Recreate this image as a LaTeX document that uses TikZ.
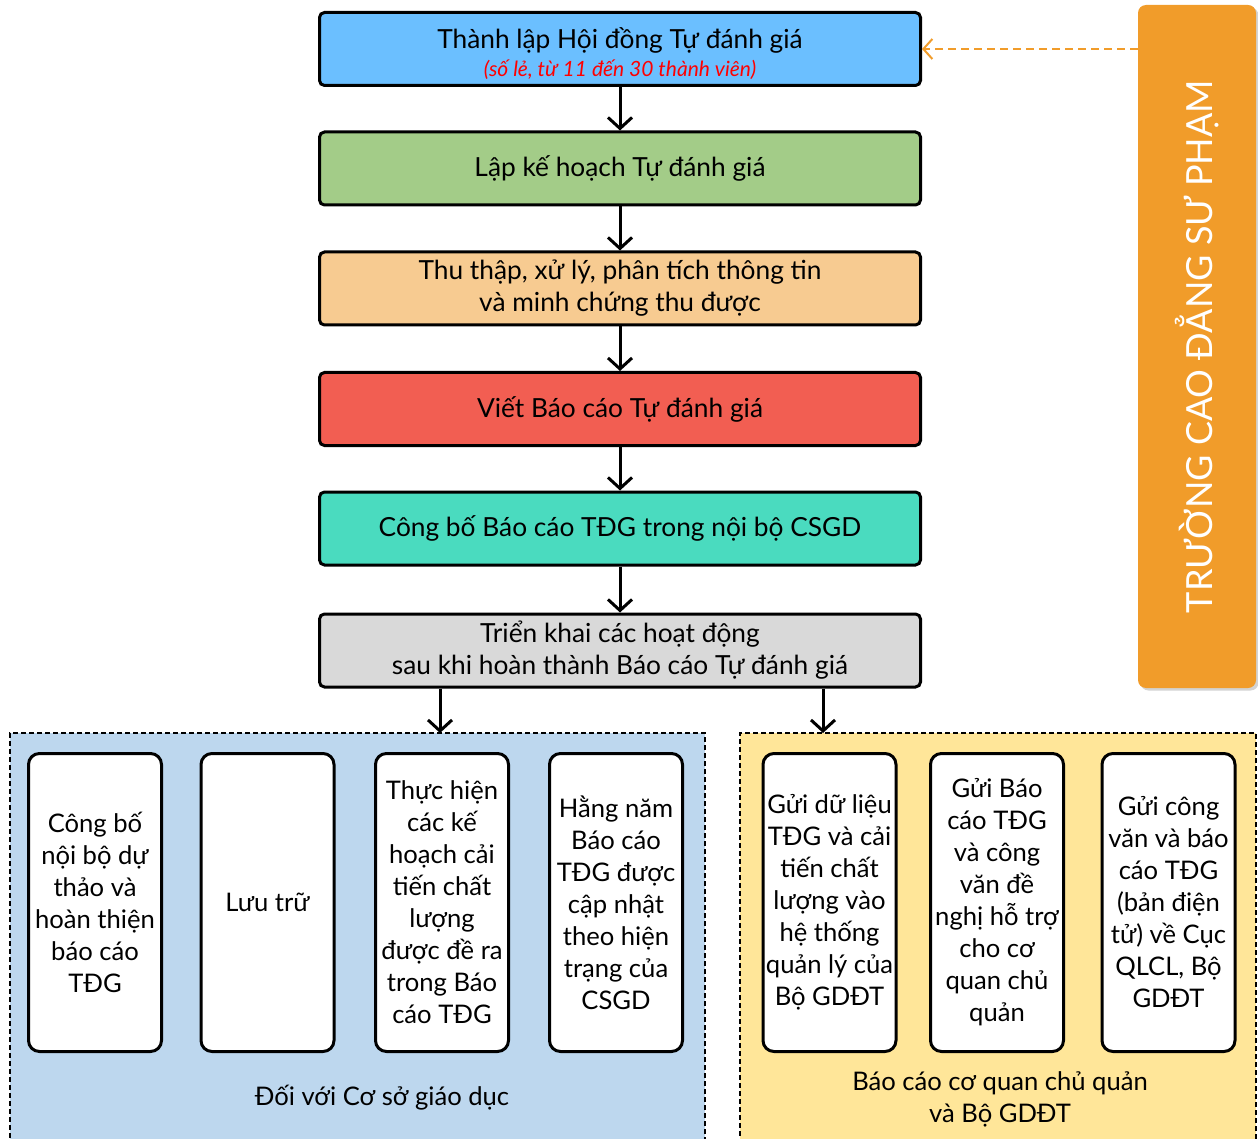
\documentclass[tikz,border=0pt]{standalone}
\usepackage{fontspec}
\setmainfont{Lato}
\usepackage{xcolor}
\usetikzlibrary{arrows.meta,shadows}

\definecolor{boxblue}{HTML}{6BBFFF}
\definecolor{boxgreen}{HTML}{A3CC88}
\definecolor{boxsand}{HTML}{F7CB91}
\definecolor{boxred}{HTML}{F25E52}
\definecolor{boxteal}{HTML}{4ADBBF}
\definecolor{boxgrey}{HTML}{D9D9D9}
\definecolor{panelblue}{HTML}{BDD7EE}
\definecolor{panelyellow}{HTML}{FFE699}
\definecolor{sideorange}{HTML}{F19C2A}

\tikzset{
  stepbox/.style={draw=black, line width=3pt, rounded corners=5pt,
    minimum width=601pt, minimum height=73pt, align=center,
    font=\fontsize{26.3}{32}\selectfont},
  itembox/.style={draw=black, fill=white, line width=3pt, rounded corners=11pt,
    minimum width=133pt, minimum height=298pt, inner sep=0pt, align=center,
    font=\fontsize{25.6}{32}\selectfont},
  panel/.style={draw=black, dashed, line width=1.2pt, dash pattern=on 5pt off 3pt},
  flow/.style={-{Straight Barb[length=11pt,width=24pt]}, line width=3pt},
}

\begin{document}
\begin{tikzpicture}[x=1pt, y=-1pt]
        \useasboundingbox (0,0) rectangle (1258,1139);
        % background panels
        \node (p1) at (357.5,942) [panel, fill=panelblue, minimum width=695pt, minimum height=418pt] {};
        \node (p2) at (998,942) [panel, fill=panelyellow, minimum width=516pt, minimum height=418pt] {};
        % main steps
        \node (1) at (620,49) [stepbox, fill=boxblue] {\rule{0pt}{30pt}Thành lập Hội đồng Tự đánh giá\\[-4pt]
          {\fontsize{21}{26}\selectfont\itshape\color{red}(số lẻ, từ 11 đến 30 thành viên)}};
        \node (2) at (620,168.5) [stepbox, fill=boxgreen] {Lập kế hoạch Tự đánh giá};
        \node (3) at (620,288.5) [stepbox, fill=boxsand] {Thu thập, xử lý, phân tích thông tin\\và minh chứng thu được};
        \node (4) at (620,409) [stepbox, fill=boxred] {Viết Báo cáo Tự đánh giá};
        \node (5) at (620,528.5) [stepbox, fill=boxteal] {Công bố Báo cáo TĐG trong nội bộ CSGD};
        \node (6) at (620,650.5) [stepbox, fill=boxgrey] {Triển khai các hoạt động\\sau khi hoàn thành Báo cáo Tự đánh giá};
        % side label
        \node (16) at (1197,346.5) [rotate=90, fill=sideorange, rounded corners=8pt,
          minimum width=683pt, minimum height=118pt, drop shadow={opacity=0.35},
          text=white, font=\fontsize{36}{40}\selectfont] {TRƯỜNG CAO ĐẲNG SƯ PHẠM};
        % items for the school
        \node (7) at (95,902.5) [itembox] {Công bố\\nội bộ dự\\thảo và\\hoàn thiện\\báo cáo\\TĐG};
        \node (8) at (267.5,902.5) [itembox] {Lưu trữ};
        \node (9) at (442,902.5) [itembox] {Thực hiện\\các kế\\hoạch cải\\tiến chất\\lượng\\được đề ra\\trong Báo\\cáo TĐG};
        \node (10) at (616,902.5) [itembox] {Hằng năm\\Báo cáo\\TĐG được\\cập nhật\\theo hiện\\trạng của\\CSGD};
        \node (11) at (382,1098) [font=\fontsize{25.6}{32}\selectfont] {Đối với Cơ sở giáo dục};
        % items for the ministry
        \node (12) at (829.5,902.5) [itembox] {Gửi dữ liệu\\TĐG và cải\\tiến chất\\lượng vào\\hệ thống\\quản lý của\\Bộ GDĐT};
        \node (13) at (997,902.5) [itembox] {Gửi Báo\\cáo TĐG\\và công\\văn đề\\nghị hỗ trợ\\cho cơ\\quan chủ\\quản};
        \node (14) at (1168.5,902.5) [itembox] {Gửi công\\văn và báo\\cáo TĐG\\(bản điện\\tử) về Cục\\QLCL, Bộ\\GDĐT};
        \node (15) at (1000,1099) [align=center, font=\fontsize{25.6}{32}\selectfont] {Báo cáo cơ quan chủ quản\\và Bộ GDĐT};
        % connectors
        \coordinate (c1) at (440,733);
        \coordinate (c2) at (823,733);
        \draw [flow] (1) -- (2);
        \draw [flow] (2) -- (3);
        \draw [flow] (3) -- (4);
        \draw [flow] (4) -- (5);
        \draw [flow] (5) -- (6);
        \draw [flow] (6.south -| c1) -- (c1);
        \draw [flow] (6.south -| c2) -- (c2);
        \draw [sideorange, line width=2pt, dash pattern=on 8pt off 5pt,
          -{Straight Barb[length=9pt,width=20pt]}] (16.north |- 1.east) -- (1.east);
    \end{tikzpicture}
\end{document}
